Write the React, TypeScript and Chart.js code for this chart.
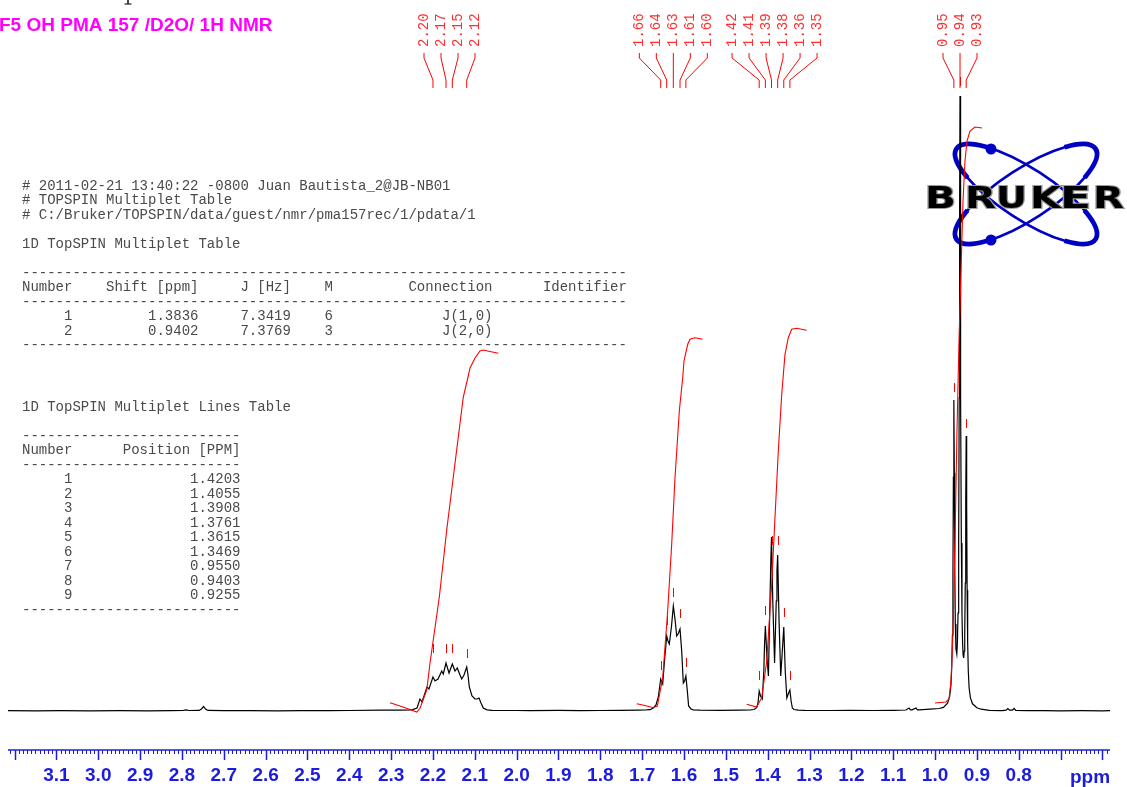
import React, { useEffect, useRef } from "react";
import { Chart, registerables } from "chart.js";

Chart.register(...registerables);

const W = 1127;
const H = 787;

// x range (ppm, reversed) and y range (intensity units)
const PPM_MAX = 3.2157;
const PPM_MIN = 0.5818;
const INT_MAX = 615;

// ---------------- spectrum (ppm, intensity) ----------------
const specPpm = [
  3.2157, 3.15, 3.0914, 3.02, 2.948, 2.88, 2.8285, 2.7974, 2.7902, 2.7831, 2.7592, 2.7532, 2.7482, 2.7436, 2.7377,
  2.7, 2.6373, 2.57, 2.5178, 2.45, 2.3983, 2.3266, 2.2788, 2.2501, 2.2381, 2.231, 2.2262, 2.219, 2.2142, 2.2095,
  2.2, 2.1951, 2.1879, 2.1791, 2.1753, 2.1688, 2.1616, 2.1537, 2.1473, 2.1418, 2.1354, 2.1313, 2.1258, 2.1193,
  2.1162, 2.1131, 2.1067, 2.0995, 2.0947, 2.0899, 2.0852, 2.0797, 2.0708, 2.0589, 2.0, 1.968, 1.9, 1.8485, 1.8,
  1.7529, 1.71, 1.6932, 1.6812, 1.6734, 1.6669, 1.6614, 1.6557, 1.6509, 1.6466, 1.6413, 1.6382, 1.6351, 1.6298,
  1.6255, 1.6215, 1.6174, 1.6131, 1.6095, 1.6055, 1.6016, 1.5985, 1.5955, 1.592, 1.589, 1.5832, 1.5777, 1.5617,
  1.5139, 1.4661, 1.4422, 1.4327, 1.4262, 1.4231, 1.4203, 1.4171, 1.4129, 1.4092, 1.4076, 1.4055, 1.402, 1.3982,
  1.3945, 1.3925, 1.3908, 1.3878, 1.3835, 1.3795, 1.3778, 1.3761, 1.3728, 1.3688, 1.365, 1.3615, 1.358, 1.3542,
  1.35, 1.3469, 1.344, 1.341, 1.337, 1.3268, 1.3108, 1.25, 1.2032, 1.15, 1.1, 1.0694, 1.0622, 1.0586, 1.055,
  1.0455, 1.042, 1.0383, 1.012, 0.99, 0.98, 0.97, 0.965, 0.962, 0.96, 0.9585, 0.9572, 0.9561, 0.955, 0.9539,
  0.9528, 0.9515, 0.95, 0.948, 0.9465, 0.945, 0.9435, 0.9422, 0.9412, 0.9403, 0.9394, 0.9384, 0.9371, 0.9356,
  0.9341, 0.9329, 0.9315, 0.9302, 0.929, 0.9277, 0.9266, 0.9255, 0.9244, 0.9233, 0.922, 0.9205, 0.9185, 0.9155,
  0.9105, 0.9, 0.89, 0.87, 0.84, 0.83, 0.826, 0.822, 0.815, 0.811, 0.807, 0.78, 0.74, 0.7, 0.65, 0.6, 0.5818,
];
const specInt = [
  0.3, 0.2, 0.4, 0.2, 0.3, 0.2, 0.4, 0.5, 1.2, 0.5, 0.6, 2, 4.5, 2, 0.6,
  0.3, 0.4, 0.2, 0.4, 0.3, 0.5, 0.9, 0.8, 1.2, 3, 12, 9, 18, 24, 22,
  34, 30, 32, 40, 37, 48, 38, 47, 40, 43, 36, 32, 36, 44,
  36, 24, 15, 12, 12, 13, 8, 3, 1.2, 0.6, 0.5, 0.4, 0.6, 0.4, 0.5,
  0.6, 0.8, 1, 1.3, 3, 6, 14, 32, 27, 50, 75, 70, 67, 85,
  105, 92, 75, 78, 82, 60, 28, 30, 35, 20, 5, 2, 1.2, 0.8,
  0.7, 0.8, 1, 1.5, 3.3, 8, 20, 15, 12, 40, 65, 85, 55, 35,
  110, 150, 174, 110, 48, 110, 140, 156, 90, 35, 60, 84, 40, 13,
  18, 21, 10, 3, 1.5, 0.8, 0.6, 0.5, 0.6, 0.5, 0.7, 1, 3, 1.2, 1.2,
  3, 1.2, 1.2, 1.8, 2.5, 3.6, 7.8, 14.7, 25.8, 44, 76, 137, 234, 311, 238,
  143, 87, 62, 57, 69, 98, 169, 313, 504, 615, 504, 313, 168, 97,
  67, 56, 53, 60, 78, 128, 211, 275, 207, 121, 68, 40, 23, 13.4,
  7.2, 3.2, 1.8, 0.6, 0.4, 0.8, 2.5, 0.8, 0.8, 2.5, 0.6, 0.3, 0.4, 0.2, 0.3, 0.2, 0.3,
];

// ---------------- integral curves ----------------
const integ1Ppm = [2.3027, 2.2788, 2.2549, 2.2388, 2.231, 2.2149, 2.2071, 2.1848, 2.1671, 2.1473, 2.1275, 2.1179, 2.1114, 2.0995, 2.0876, 2.0797, 2.0637, 2.0438];
const integ1Val = [8.3, 5, 1.5, -1, 2.7, 21, 47.7, 114, 181, 247.7, 314, 331, 343, 353, 360, 361, 359.5, 357.7];

const integ2Ppm = [1.713, 1.6932, 1.6734, 1.6638, 1.6509, 1.639, 1.6294, 1.6215, 1.6112, 1.6031, 1.6, 1.5911, 1.5856, 1.5737, 1.5553];
const integ2Val = [7.3, 5.5, 3.3, 5, 33.3, 100, 166.7, 233.3, 300, 333.3, 350, 366.7, 371.7, 373.3, 371.7];

const integ3Ppm = [1.4501, 1.4262, 1.4142, 1.4023, 1.3904, 1.3825, 1.3746, 1.3664, 1.3586, 1.3507, 1.3426, 1.3306, 1.3067];
const integ3Val = [6.7, 4, 13.3, 50, 126.7, 193.3, 260, 316.7, 356.7, 373.3, 381.7, 382.7, 380.7];

const integ4Ppm = [1.0001, 0.9738, 0.9666, 0.9618, 0.957, 0.9523, 0.9475, 0.9427, 0.9379, 0.9331, 0.9284, 0.9236, 0.9164, 0.9044, 0.8877];
const integ4Val = [8, 9, 12, 30, 80, 170, 280, 370, 440, 510, 550, 570, 580, 584, 583];

// ---------------- peak pick marks ----------------
const markPpm = [2.2, 2.1688, 2.1537, 2.1193, 1.6557, 1.6413, 1.6255, 1.6095, 1.5955, 1.4203, 1.4055, 1.3908, 1.3761, 1.3615, 1.3469, 0.955, 0.9403, 0.9255];
const markLevel = [58, 58, 58, 53, 41, 86, 114, 93, 44, 31, 96, 166, 166, 94, 31, 319, 625, 283];

// ---------------- peak labels (groups) ----------------
const labelGroupPpm = [
  [2.2, 2.1688, 2.1537, 2.1193],
  [1.6557, 1.6413, 1.6255, 1.6095, 1.5955],
  [1.4203, 1.4055, 1.3908, 1.3761, 1.3615, 1.3469],
  [0.955, 0.9403, 0.9255],
];
const labelGroupText = [
  ["2.20", "2.17", "2.15", "2.12"],
  ["1.66", "1.64", "1.63", "1.61", "1.60"],
  ["1.42", "1.41", "1.39", "1.38", "1.36", "1.35"],
  ["0.95", "0.94", "0.93"],
];

// ---------------- axis labels ----------------
const axisLabelValues = [3.1, 3.0, 2.9, 2.8, 2.7, 2.6, 2.5, 2.4, 2.3, 2.2, 2.1, 2.0, 1.9, 1.8, 1.7, 1.6, 1.5, 1.4, 1.3, 1.2, 1.1, 1.0, 0.9, 0.8];
const axisLabelText = ["3.1", "3.0", "2.9", "2.8", "2.7", "2.6", "2.5", "2.4", "2.3", "2.2", "2.1", "2.0", "1.9", "1.8", "1.7", "1.6", "1.5", "1.4", "1.3", "1.2", "1.1", "1.0", "0.9", "0.8"];
const axisUnit = "ppm";

// ---------------- text blocks ----------------
const titleText = "F5 OH PMA 157 /D2O/ 1H NMR";
const headerLines = [
  "# 2011-02-21 13:40:22 -0800 Juan Bautista_2@JB-NB01",
  "# TOPSPIN Multiplet Table",
  "# C:/Bruker/TOPSPIN/data/guest/nmr/pma157rec/1/pdata/1",
];
const multipletTitle = "1D TopSPIN Multiplet Table";
const multipletNumber = [1, 2];
const multipletShift = ["1.3836", "0.9402"];
const multipletJ = ["7.3419", "7.3769"];
const multipletM = ["6", "3"];
const multipletConn = ["J(1,0)", "J(2,0)"];
const linesTitle = "1D TopSPIN Multiplet Lines Table";
const linesPosition = ["1.4203", "1.4055", "1.3908", "1.3761", "1.3615", "1.3469", "0.9550", "0.9403", "0.9255"];

function buildTable1(): string[] {
  const dash = "-".repeat(72);
  const head = "Number    Shift [ppm]     J [Hz]    M         Connection      Identifier";
  const rows = multipletNumber.map(
    (n, i) =>
      String(n).padStart(6) +
      multipletShift[i].padStart(15) +
      multipletJ[i].padStart(11) +
      multipletM[i].padStart(5) +
      multipletConn[i].padStart(19)
  );
  return [...headerLines, "", multipletTitle, "", dash, head, dash, ...rows, dash];
}
function buildTable2(): string[] {
  const dash = "-".repeat(26);
  const head = "Number      Position [PPM]";
  const rows = linesPosition.map((p, i) => String(i + 1).padStart(6) + p.padStart(20));
  return [linesTitle, "", dash, head, dash, ...rows, dash];
}

function pts(xs: number[], ys: number[]) {
  return xs.map((x, i) => ({ x, y: ys[i] }));
}

function drawLogo(ctx: CanvasRenderingContext2D) {
  ctx.save();
  const cx = 1026, cy = 194, a = 83, b = 25.4, ang = (33 * Math.PI) / 180;
  ctx.strokeStyle = "#0000c4";
  for (const s of [1, -1]) {
    ctx.lineWidth = 2.6;
    ctx.beginPath();
    ctx.ellipse(cx, cy, a, b, s * ang, 0, Math.PI * 2);
    ctx.stroke();
    ctx.lineWidth = 4.8;
    ctx.beginPath();
    ctx.ellipse(cx, cy, a, b, s * ang, Math.PI - 0.8, Math.PI + 0.8);
    ctx.stroke();
    ctx.beginPath();
    ctx.ellipse(cx, cy, a, b, s * ang, -0.8, 0.8);
    ctx.stroke();
  }
  ctx.fillStyle = "#0000c4";
  for (const [dx, dy] of [[991, 149], [991, 240]]) {
    ctx.beginPath();
    ctx.arc(dx, dy, 5.5, 0, Math.PI * 2);
    ctx.fill();
  }
  // word
  ctx.font = 'bold 30px "DejaVu Sans", sans-serif';
  ctx.textBaseline = "alphabetic";
  const word = "BRUKER";
  const letterX = [925, 965, 996, 1030, 1060, 1093];
  const letterW = 31;
  for (let i = 0; i < word.length; i++) {
    const w = ctx.measureText(word[i]).width;
    ctx.save();
    ctx.translate(letterX[i], 207.5);
    ctx.scale(letterW / w, 1);
    ctx.lineWidth = 2;
    ctx.strokeStyle = "#9a9a9a";
    ctx.strokeText(word[i], 0, 0);
    ctx.fillStyle = "#000";
    ctx.fillText(word[i], 0, 0);
    ctx.restore();
  }
  ctx.restore();
}

const decorPlugin = {
  id: "nmrDecor",
  beforeDatasetsDraw(chart: any) {
    const ctx: CanvasRenderingContext2D = chart.ctx;
    ctx.save();
    // text tables
    ctx.fillStyle = "#4a4a4a";
    ctx.font = '14px "Liberation Mono", "DejaVu Sans Mono", monospace';
    ctx.textBaseline = "middle";
    ctx.textAlign = "left";
    buildTable1().forEach((line, i) => ctx.fillText(line, 22, 186 + i * 14.5));
    buildTable2().forEach((line, i) => ctx.fillText(line, 22, 407 + i * 14.5));
    // descender of a clipped line above the page
    ctx.fillStyle = "#000";
    ctx.fillRect(127.3, 0, 1.4, 4);
    ctx.fillRect(124.5, 3.5, 7, 1);
    ctx.restore();
    drawLogo(ctx);
  },
  afterDatasetsDraw(chart: any) {
    const ctx: CanvasRenderingContext2D = chart.ctx;
    const xs = chart.scales.x;
    const ys = chart.scales.y;
    ctx.save();
    // peak pick marks
    ctx.strokeStyle = "#ff0000";
    ctx.lineWidth = 1;
    markPpm.forEach((p, i) => {
      const px = Math.round(xs.getPixelForValue(p)) + 0.5;
      ctx.beginPath();
      ctx.moveTo(px, ys.getPixelForValue(markLevel[i]));
      ctx.lineTo(px, ys.getPixelForValue(markLevel[i] + 9));
      ctx.stroke();
    });
    // peak labels with leader lines
    ctx.font = '14px "Liberation Mono", "DejaVu Sans Mono", monospace';
    ctx.fillStyle = "#ff3030";
    ctx.textBaseline = "middle";
    ctx.textAlign = "left";
    labelGroupPpm.forEach((grp, g) => {
      const pxs = grp.map((p) => xs.getPixelForValue(p));
      const mean = pxs.reduce((s, v) => s + v, 0) / pxs.length;
      const step = 17;
      pxs.forEach((px, i) => {
        const lx = mean + (i - (pxs.length - 1) / 2) * step;
        ctx.beginPath();
        ctx.moveTo(lx, 53);
        ctx.lineTo(lx, 58);
        ctx.lineTo(px, 80);
        ctx.lineTo(px, 88);
        ctx.stroke();
        ctx.save();
        ctx.translate(lx, 47);
        ctx.rotate(-Math.PI / 2);
        ctx.fillText(labelGroupText[g][i], 0, 0);
        ctx.restore();
      });
    });
    // ppm axis (ruler)
    const axisY = 750;
    const blue = "#1c1cdc";
    ctx.strokeStyle = blue;
    ctx.lineWidth = 1.5;
    ctx.beginPath();
    ctx.moveTo(chart.chartArea.left, axisY);
    ctx.lineTo(chart.chartArea.right, axisY);
    ctx.stroke();
    const lo = Math.ceil(PPM_MIN * 100);
    const hi = Math.floor(PPM_MAX * 100);
    for (let k = lo; k <= hi; k++) {
      const px = Math.round(xs.getPixelForValue(k / 100)) + 0.5;
      const len = k % 10 === 0 ? 10 : 4;
      ctx.lineWidth = k % 10 === 0 ? 1.5 : 1;
      ctx.beginPath();
      ctx.moveTo(px, axisY);
      ctx.lineTo(px, axisY + len);
      ctx.stroke();
    }
    ctx.fillStyle = blue;
    ctx.font = 'bold 19px "Liberation Sans", Arial, sans-serif';
    ctx.textAlign = "center";
    ctx.textBaseline = "middle";
    axisLabelValues.forEach((v, i) => {
      ctx.fillText(axisLabelText[i], xs.getPixelForValue(v), 776);
    });
    ctx.fillText(axisUnit, 1090, 778);
    // title
    ctx.fillStyle = "#ff00ff";
    ctx.font = 'bold 19px "Liberation Sans", Arial, sans-serif';
    ctx.textAlign = "left";
    ctx.textBaseline = "alphabetic";
    ctx.fillText(titleText, -1, 31);
    ctx.restore();
  },
};

export default function App() {
  const ref = useRef<HTMLCanvasElement | null>(null);
  useEffect(() => {
    if (!ref.current) return;
    const lineDs = (data: any, color: string, width: number) => ({
      data,
      borderColor: color,
      borderWidth: width,
      pointRadius: 0,
      tension: 0,
      fill: false,
      clip: false as any,
    });
    const chart = new Chart(ref.current, {
      type: "line",
      data: {
        datasets: [
          lineDs(pts(integ1Ppm, integ1Val), "#ff0000", 1.1),
          lineDs(pts(integ2Ppm, integ2Val), "#ff0000", 1.1),
          lineDs(pts(integ3Ppm, integ3Val), "#ff0000", 1.1),
          lineDs(pts(integ4Ppm, integ4Val), "#ff0000", 1.1),
          lineDs(pts(specPpm, specInt), "#000000", 1.2),
        ],
      },
      options: {
        responsive: false,
        animation: false,
        devicePixelRatio: 1,
        layout: { padding: { left: 8, right: W - 1110, top: 96, bottom: H - 711 } },
        plugins: { legend: { display: false }, tooltip: { enabled: false } },
        scales: {
          x: { type: "linear", reverse: true, min: PPM_MIN, max: PPM_MAX, display: false },
          y: { type: "linear", min: 0, max: INT_MAX, display: false },
        },
      },
      plugins: [decorPlugin],
    });
    return () => chart.destroy();
  }, []);
  return (
    <div style={{ position: "fixed", left: 0, top: 0, width: W, height: H, background: "#fff" }}>
      <canvas ref={ref} width={W} height={H} style={{ width: W, height: H, display: "block" }} />
    </div>
  );
}
